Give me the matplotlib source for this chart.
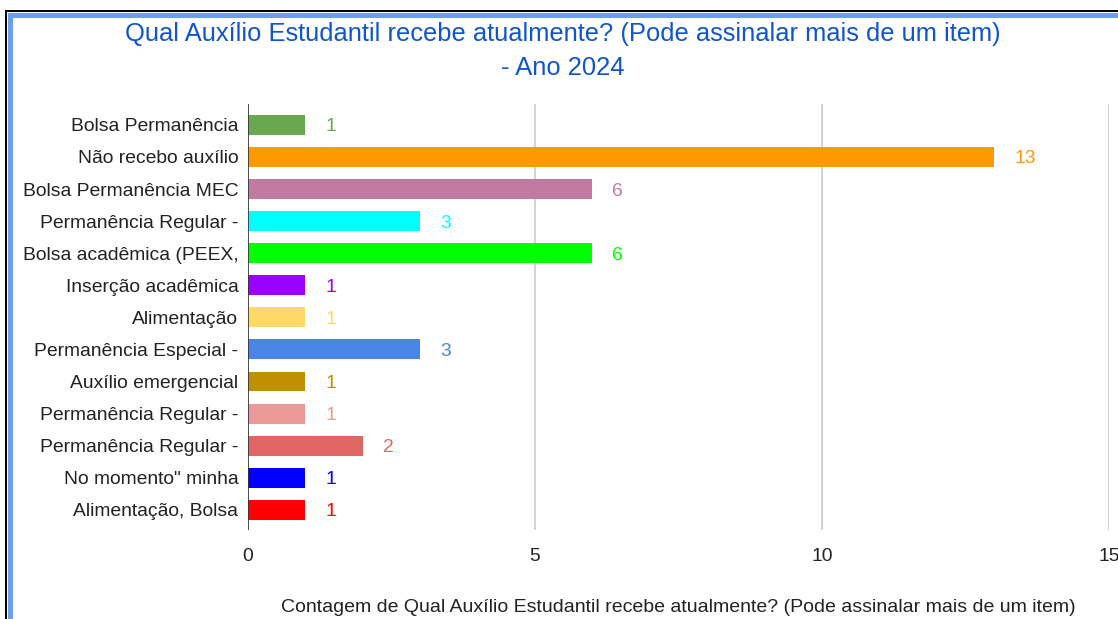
import matplotlib
matplotlib.use("Agg")
import matplotlib.pyplot as plt
from matplotlib.patches import Rectangle

categories = [
    "Bolsa Permanência",
    "Não recebo auxílio",
    "Bolsa Permanência MEC",
    "Permanência Regular -",
    "Bolsa acadêmica (PEEX,",
    "Inserção acadêmica",
    "Alimentação",
    "Permanência Especial -",
    "Auxílio emergencial",
    "Permanência Regular -",
    "Permanência Regular -",
    "No momento\" minha",
    "Alimentação, Bolsa",
]
values = [1, 13, 6, 3, 6, 1, 1, 3, 1, 1, 2, 1, 1]
colors = ["#6aa84f", "#ff9900", "#c27ba0", "#00ffff", "#00ff00", "#9900ff",
          "#ffd966", "#4a86e8", "#bf9000", "#ea9999", "#e06666", "#0000ff", "#ff0000"]
xticks = [0, 5, 10, 15]
title = "Qual Auxílio Estudantil recebe atualmente? (Pode assinalar mais de um item)\n- Ano 2024"
xlabel = "Contagem de Qual Auxílio Estudantil recebe atualmente? (Pode assinalar mais de um item)"

plt.rcParams['font.family'] = ['Liberation Sans', 'DejaVu Sans']

W, H = 1118, 619
fig = plt.figure(figsize=(W / 100, H / 100), dpi=100)
fig.patch.set_facecolor("white")

# screenshot frame
fig.add_artist(Rectangle((5 / W, 0), 2 / W, 1 - 10 / H, transform=fig.transFigure,
                         facecolor="black", edgecolor="none"))
fig.add_artist(Rectangle((5 / W, 1 - 12 / H), 1 - 5 / W, 2 / H, transform=fig.transFigure,
                         facecolor="black", edgecolor="none"))
fig.add_artist(Rectangle((8 / W, 0), 5 / W, 1 - 13 / H, transform=fig.transFigure,
                         facecolor="#6d9eeb", edgecolor="none"))
fig.add_artist(Rectangle((8 / W, 1 - 18 / H), 1 - 8 / W, 5 / H, transform=fig.transFigure,
                         facecolor="#6d9eeb", edgecolor="none"))

ax = fig.add_axes([248 / W, 1 - 530 / H, (1109 - 248) / W, (530 - 104) / H])
y = list(range(len(categories)))
ax.barh(y, values, height=0.62, color=colors, zorder=3)
ax.set_xlim(0, 15)
ax.set_ylim(len(categories) - 1 + 0.63, -0.65)
ax.set_yticks(y)
ax.set_yticklabels(categories, fontsize=13.9, color="#222222")
ax.set_xticks(xticks)
ax.set_xticklabels([str(t) for t in xticks], fontsize=13.9, color="#222222")
ax.tick_params(axis="both", length=0)
ax.tick_params(axis="y", pad=7)
ax.tick_params(axis="x", pad=13)
for s in ax.spines.values():
    s.set_visible(False)
ax.grid(axis="x", color="#cccccc", linewidth=1.2, zorder=0)
ax.axvline(0, color="#333333", linewidth=1.2, zorder=4)

for yi, v, c in zip(y, values, colors):
    ax.annotate(str(v), (v, yi), xytext=(14.4, 0), textcoords="offset points",
                va="center_baseline", ha="left", fontsize=13.9, color=c)

fig.text(563 / W, 1 - 51 / H, title, ha="center", va="center", fontsize=18.4,
         color="#1155cc", linespacing=1.55)
fig.text(678 / W, 1 - 607 / H, xlabel, ha="center", va="center", fontsize=14,
         color="#222222")

fig.savefig("out.png", dpi=100)
